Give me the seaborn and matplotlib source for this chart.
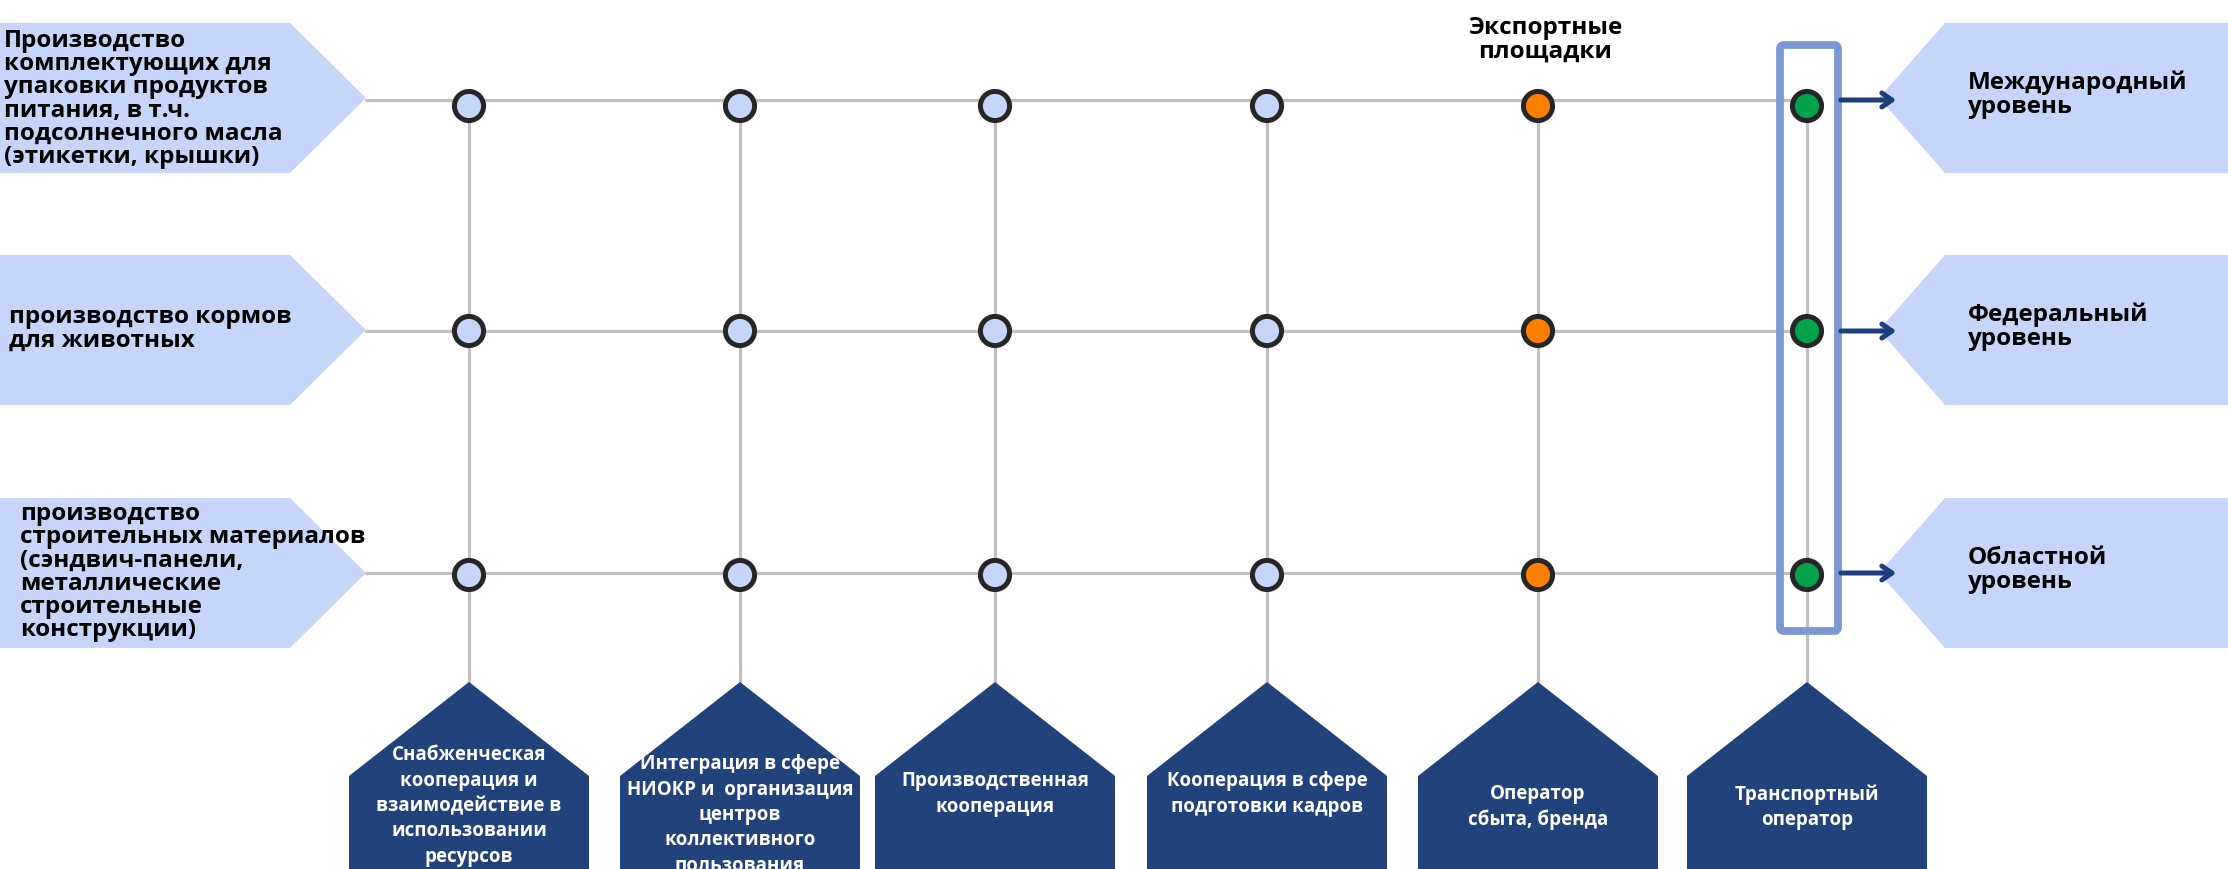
import matplotlib
matplotlib.use("Agg")
import pandas as pd
import matplotlib.pyplot as plt
from matplotlib.patches import Polygon, FancyBboxPatch
import seaborn as sns

# --- content ---
industries = [
    "Производство\nкомплектующих для\nупаковки продуктов\nпитания, в т.ч.\nподсолнечного масла\n(этикетки, крышки)",
    "производство кормов\nдля животных",
    "производство\nстроительных материалов\n(сэндвич-панели,\nметаллические\nстроительные\nконструкции)",
]
levels = ["Международный\nуровень", "Федеральный\nуровень", "Областной\nуровень"]
cooperation_forms = [
    "Снабженческая\nкооперация и\nвзаимодействие в\nиспользовании\nресурсов",
    "Интеграция в сфере\nНИОКР и  организация\nцентров\nколлективного\nпользования",
    "Производственная\nкооперация",
    "Кооперация в сфере\nподготовки кадров",
    "Оператор\nсбыта, бренда",
    "Транспортный\nоператор",
]
node_kind = ["base", "base", "base", "base", "export", "transport"]
export_label = "Экспортные\nплощадки"

# --- layout (pixel coordinates, y grows downward) ---
W, H = 2228, 869
col_x = [469, 740, 995, 1267, 1538, 1807]
row_y = [100, 331, 573]
row_dot_shift = [6, 0, 2]
box_top = [23, 255, 498]
box_bot = [173, 405, 648]
left_text_x = [4, 9, 20]
left_text_y = [99, 329, 572]
right_text_y = [95, 327, 570]
bottom_text_y = [806, 815, 794, 794, 807, 807]

LIGHT = "#C6D6FB"
NAVY = "#21427A"
GRID = "#C0C0C0"
kind_colors = {"base": LIGHT, "export": "#FF8000", "transport": "#00A24C"}

sns.set_theme(style="white")
plt.rcParams["font.family"] = ["Open Sans", "DejaVu Sans"]

fig = plt.figure(figsize=(W / 100, H / 100), dpi=100)
ax = fig.add_axes([0, 0, 1, 1])

# grid lines
for y in row_y:
    ax.plot([366, col_x[-1]], [y, y], color=GRID, lw=2.3, zorder=1)
for x in col_x:
    ax.plot([x, x], [row_y[0], 684], color=GRID, lw=2.3, zorder=1)

# left industry boxes and right level boxes
for i in range(len(industries)):
    t, b = box_top[i], box_bot[i]
    m = (t + b) / 2
    ax.add_patch(Polygon([(0, t), (290, t), (366, m), (290, b), (0, b)],
                         closed=True, fc=LIGHT, ec="none", zorder=0))
    ax.text(left_text_x[i], left_text_y[i], industries[i], ha="left", va="center",
            fontsize=17.5, fontweight="bold", color="black", linespacing=0.96, zorder=6)
    ax.add_patch(Polygon([(W, t), (1945, t), (1879, m), (1945, b), (W, b)],
                         closed=True, fc=LIGHT, ec="none", zorder=0))
    ax.text(1968, right_text_y[i], levels[i], ha="left", va="center",
            fontsize=17.5, fontweight="bold", color="black", linespacing=0.98, zorder=6)
    ax.annotate("", xy=(1899, row_y[i]), xytext=(1838, row_y[i]),
                arrowprops=dict(arrowstyle="->,head_length=0.6,head_width=0.42",
                                color="#1F3E7C", lw=3.6), zorder=6)

# bottom cooperation pentagons
for j, label in enumerate(cooperation_forms):
    c = col_x[j]
    ax.add_patch(Polygon([(c - 120, H + 5), (c - 120, 776), (c, 682), (c + 120, 776), (c + 120, H + 5)],
                         closed=True, fc=NAVY, ec="none", zorder=2))
    ax.text(c, bottom_text_y[j], label, ha="center", va="center", multialignment="center",
            fontsize=13.5, fontweight="bold", color="white", linespacing=1.36, zorder=6)

# nodes
nodes = pd.DataFrame(
    [{"x": col_x[j], "y": row_y[i] + row_dot_shift[i], "kind": node_kind[j]}
     for i in range(len(industries)) for j in range(len(cooperation_forms))]
)
sns.scatterplot(data=nodes, x="x", y="y", hue="kind", palette=kind_colors, s=440,
                edgecolor="#262626", linewidth=3.6, legend=False, zorder=5, ax=ax)

# highlight frame around transport column
ax.add_patch(FancyBboxPatch((1780, 45), 58, 586, boxstyle="round,pad=0,rounding_size=4",
                            fc="none", ec="#7B98D2", lw=5.6, zorder=4))

ax.text(1545, 40, export_label, ha="center", va="center", multialignment="center",
        fontsize=17.5, fontweight="bold", color="black", linespacing=0.98, zorder=6)

ax.set_xlim(0, W)
ax.set_ylim(H, 0)
ax.axis("off")
fig.savefig("out.png", dpi=100, facecolor="white")
